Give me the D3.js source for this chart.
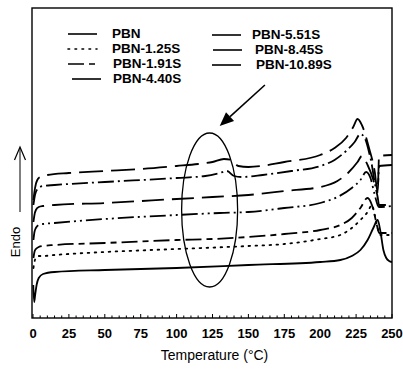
<!DOCTYPE html>
<html><head><meta charset="utf-8">
<script src="https://cdn.jsdelivr.net/npm/d3@7/dist/d3.min.js"></script>
<style>
html,body{margin:0;padding:0;background:#fff;}
svg{display:block;}
text{font-family:"Liberation Sans",Arial,sans-serif;fill:#000;}
</style></head>
<body>
<svg id="chart" width="403" height="370"></svg>
<script>
// ---- data (temperature °C, heat flow in arbitrary units, Endo up) ----
const seriesNames = ["PBN","PBN-1.25S","PBN-1.91S","PBN-4.40S","PBN-5.51S","PBN-8.45S","PBN-10.89S"];
const PBN = [[0.2,33],[0.8,16],[1.5,23],[2.5,33],[4,40],[7,44],[15,46],[50,48],[100,50],[150,53],[200,56],[214,58],[222,62],[228,68],[233,78],[237,90],[240,98],[242,86],[244,68],[246,60],[248,57],[250,56]];
const PBN_125S = [[0.3,50],[1,56],[2,60],[4,62],[7,62],[15,63],[50,66],[100,69],[150,72],[175,74],[200,79],[214,83],[222,90],[228,98],[233,106],[236,113],[238,103],[240,90],[242,83],[250,83]];
const PBN_191S = [[0.3,60],[1,66],[2,69],[4,71],[7,72],[15,73],[50,75],[100,78],[125,79],[150,81],[175,84],[200,88],[214,93],[222,100],[228,110],[233,120],[236,113],[239,96],[241,85],[250,85]];
const PBN_440S = [[0.3,78],[1,86],[2,90],[4,93],[7,94],[15,95],[50,99],[100,103],[130,105],[150,106],[175,110],[200,115],[212,121],[222,130],[228,138],[232,146],[235,140],[238,123],[240,113],[241,111],[250,112]];
const PBN_551S = [[0.3,96],[1,103],[2,108],[4,111],[7,112],[15,113],[50,115],[100,119],[125,121],[150,123],[175,127],[200,131],[212,137],[220,146],[226,156],[229,162],[233,153],[237,138],[240,121],[241,113],[250,113]];
const PBN_845S = [[0.3,113],[1,120],[2,126],[4,130],[7,132],[15,133],[50,136],[100,140],[120,142],[130,145],[135,147],[140,142],[145,141],[160,143],[180,147],[200,152],[210,158],[218,167],[224,176],[228,184],[231,180],[235,160],[240,126],[241,152],[250,153]];
const PBN_1089S = [[0.3,118],[1,126],[2,134],[3,138],[5,141],[10,143],[25,145],[50,147],[75,149],[100,152],[115,154],[125,156],[133,159],[138,158],[143,152],[150,151],[175,156],[200,163],[210,170],[218,180],[223,191],[226,199],[229,193],[234,170],[238,146],[240,126],[241,162],[250,163]];
const seriesData = [PBN, PBN_125S, PBN_191S, PBN_440S, PBN_551S, PBN_845S, PBN_1089S];
const xTicks = [0,25,50,75,100,125,150,175,200,225,250];
const xMinorTicks = d3.range(0,251,5);
// annotation: ellipse around the 125-140 °C region and arrow pointing at it
const ellipseCenter = [123,108], ellipseHalfT = 19.5, ellipseHalfV = 77;
const arrowFrom = [161.5,233], arrowTo = [130,192];

// ---- styles ----
const dashes = [null, "1.6,5.4", "16,5,6,5", "16,4,2,4,2,4", "22,8", "16,4,2,4", "24,8"];
const legendDashes = [null, "1.6,5.4", "16,5,6,5", null, null, null, null];

const svg = d3.select("#chart");
const L = 33, R = 392, T = 8, B = 318;
const x = d3.scaleLinear().domain([0,250]).range([L,R]);
const y = d3.scaleLinear().domain([0,310]).range([B,T]);

svg.append("clipPath").attr("id","clip").append("rect")
  .attr("x",L-1).attr("y",T).attr("width",R-L+1).attr("height",B-T);

// curves
const line = d3.line().x(d=>x(d[0])).y(d=>y(d[1])).curve(d3.curveMonotoneX);
const g = svg.append("g").attr("clip-path","url(#clip)");
seriesData.forEach((s,i)=>{
  g.append("path").attr("d",line(s)).attr("fill","none").attr("stroke","#000")
   .attr("stroke-width",1.8).attr("stroke-linecap", i===1?"round":"butt")
   .attr("stroke-dasharray",dashes[i]);
});

// frame
svg.append("rect").attr("x",L-1).attr("y",T).attr("width",R-L+1).attr("height",B-T)
  .attr("fill","none").attr("stroke","#000").attr("stroke-width",1.4);

// x axis: inward ticks, labels below
const ax = svg.append("g").attr("transform",`translate(0,${B})`);
ax.selectAll("line.minor").data(xMinorTicks).join("line")
  .attr("x1",d=>x(d)).attr("x2",d=>x(d)).attr("y1",0).attr("y2",d=>d%25===0?-4:-2.5)
  .attr("stroke","#000").attr("stroke-width",1);
ax.selectAll("text").data(xTicks).join("text")
  .attr("x",d=>x(d)).attr("y",20).attr("text-anchor","middle")
  .attr("font-size",13).attr("font-weight","bold").text(d=>d);

svg.append("text").attr("x",(L+R)/2+2).attr("y",360).attr("text-anchor","middle")
  .attr("font-size",14).text("Temperature (°C)");

// y label and Endo arrow
svg.append("text").attr("transform","translate(19.5,242) rotate(-90)")
  .attr("text-anchor","middle").attr("font-size",13).text("Endo");
svg.append("line").attr("x1",20).attr("x2",20).attr("y1",212).attr("y2",148)
  .attr("stroke","#000").attr("stroke-width",1);
svg.append("path").attr("d","M14.5,160 L20,147 L25.5,160").attr("fill","none")
  .attr("stroke","#000").attr("stroke-width",1.2);

// ellipse annotation
svg.append("ellipse").attr("cx",x(ellipseCenter[0])).attr("cy",y(ellipseCenter[1]))
  .attr("rx",x(ellipseHalfT)-x(0)).attr("ry",y(0)-y(ellipseHalfV))
  .attr("fill","none").attr("stroke","#000").attr("stroke-width",1.3);

// arrow
const ax1 = x(arrowFrom[0]), ay1 = y(arrowFrom[1]), ax2 = x(arrowTo[0]), ay2 = y(arrowTo[1]);
const ang = Math.atan2(ay2-ay1, ax2-ax1), hl = 14, hw = 6;
const bx = ax2 - hl*Math.cos(ang), by = ay2 - hl*Math.sin(ang);
svg.append("line").attr("x1",ax1).attr("y1",ay1).attr("x2",bx).attr("y2",by)
  .attr("stroke","#000").attr("stroke-width",1.6);
svg.append("path").attr("d",`M${ax2},${ay2} L${bx+hw*Math.sin(ang)},${by-hw*Math.cos(ang)} L${bx-hw*Math.sin(ang)},${by+hw*Math.cos(ang)} Z`)
  .attr("fill","#000");

// legend
const legendPos = [
  {sx:68, tx:112, cy:33},
  {sx:68, tx:112, cy:48},
  {sx:68, tx:113, cy:63},
  {sx:72, tx:113, cy:78},
  {sx:212, tx:252, cy:34},
  {sx:213, tx:255, cy:49},
  {sx:212, tx:256, cy:64}
];
const leg = svg.append("g");
seriesNames.forEach((n,i)=>{
  const p = legendPos[i];
  leg.append("line").attr("x1",p.sx).attr("x2",p.sx+29).attr("y1",p.cy+1).attr("y2",p.cy+1)
    .attr("stroke","#000").attr("stroke-width",1.6)
    .attr("stroke-linecap", i===1?"round":"butt")
    .attr("stroke-dasharray",legendDashes[i]);
  leg.append("text").attr("x",p.tx).attr("y",p.cy+4.7).attr("font-size",13.5)
    .attr("font-weight","bold").text(n);
});
</script>
</body></html>
